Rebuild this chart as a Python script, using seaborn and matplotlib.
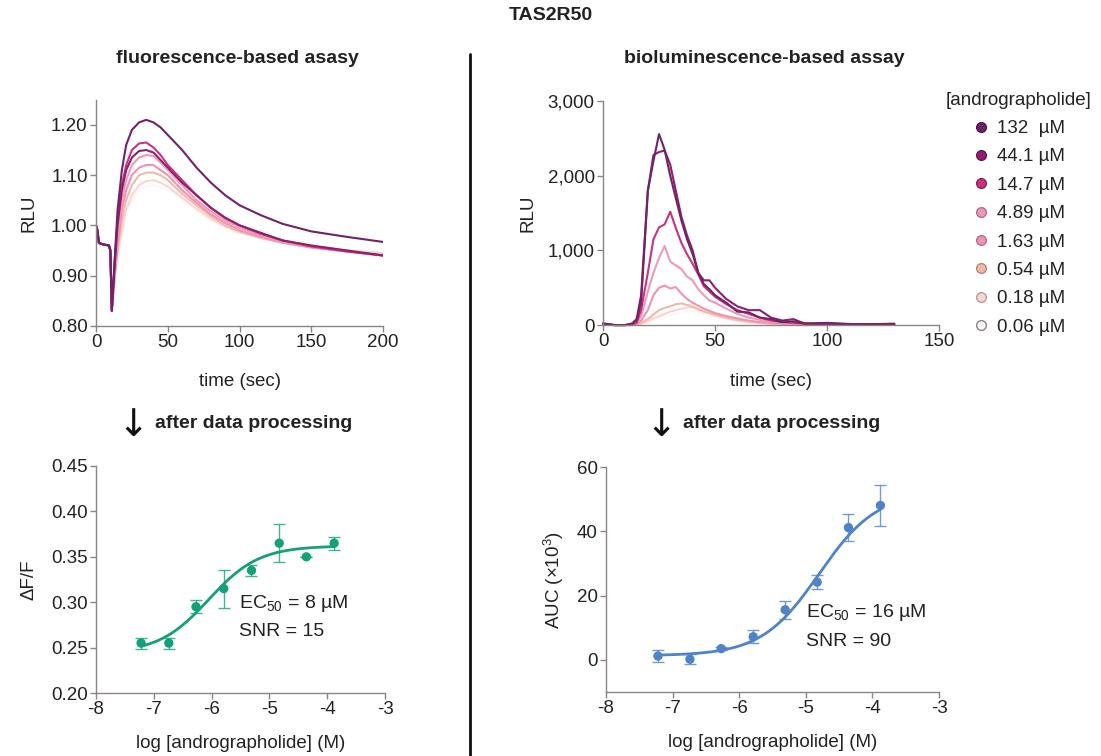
import numpy as np
import pandas as pd
import matplotlib
matplotlib.use('Agg')
import matplotlib.pyplot as plt
from matplotlib.lines import Line2D
import seaborn as sns

# ============================================================
# DATA
# ============================================================
CONC_LABELS = ['132  µM', '44.1 µM', '14.7 µM', '4.89 µM',
               '1.63 µM', '0.54 µM', '0.18 µM', '0.06 µM']
CONC_COLORS = ['#6e2466', '#8f1e6e', '#c8337f', '#ee9ab5',
               '#ee94b0', '#f2b9aa', '#f7d6d4', '#fbf8f6']
CONC_EDGES = ['#4a1844', '#641550', '#8e2058', '#b86d88',
              '#b86d88', '#b8877c', '#b89c9a', '#8a8484']

# fluorescence traces (RLU vs time, sec)
FL_TIME = [0, 1, 2, 5, 9, 10, 11, 13, 15, 18, 21, 25, 30, 35, 40, 45, 50,
           60, 70, 80, 90, 100, 115, 130, 150, 175, 200]
FL_PRE = [1.00, 0.99, 0.965, 0.962, 0.96, 0.95, 0.83]
FL_132 = FL_PRE + [0.93, 1.03, 1.11, 1.16, 1.19, 1.205, 1.21, 1.205, 1.195, 1.18,
                   1.15, 1.115, 1.085, 1.06, 1.04, 1.02, 1.003, 0.988, 0.977, 0.967]
FL_44 = FL_PRE + [0.92, 1.00, 1.07, 1.11, 1.135, 1.148, 1.15, 1.145, 1.13, 1.115,
                  1.085, 1.06, 1.035, 1.015, 1.00, 0.985, 0.97, 0.96, 0.95, 0.94]
FL_14 = FL_PRE + [0.93, 1.01, 1.08, 1.12, 1.15, 1.163, 1.165, 1.155, 1.14, 1.12,
                  1.09, 1.06, 1.035, 1.015, 1.00, 0.983, 0.97, 0.958, 0.948, 0.94]
FL_4 = FL_PRE + [0.91, 0.98, 1.05, 1.09, 1.12, 1.135, 1.14, 1.138, 1.125, 1.11,
                 1.08, 1.05, 1.028, 1.01, 0.995, 0.98, 0.968, 0.957, 0.948, 0.94]
FL_1 = FL_PRE + [0.90, 0.96, 1.03, 1.07, 1.10, 1.115, 1.12, 1.12, 1.11, 1.10,
                 1.07, 1.045, 1.022, 1.005, 0.99, 0.977, 0.966, 0.956, 0.948, 0.94]
FL_05 = FL_PRE + [0.90, 0.95, 1.01, 1.05, 1.08, 1.10, 1.105, 1.105, 1.10, 1.09,
                  1.063, 1.04, 1.018, 1.00, 0.988, 0.975, 0.965, 0.956, 0.948, 0.942]
FL_02 = FL_PRE + [0.89, 0.94, 0.99, 1.03, 1.06, 1.08, 1.088, 1.09, 1.085, 1.077,
                  1.055, 1.033, 1.013, 0.998, 0.986, 0.975, 0.966, 0.958, 0.95, 0.945]
FL_006 = FL_PRE + [0.89, 0.935, 0.98, 1.02, 1.05, 1.07, 1.078, 1.08, 1.076, 1.07,
                   1.05, 1.03, 1.01, 0.996, 0.985, 0.974, 0.965, 0.957, 0.95, 0.946]

# bioluminescence traces (RLU vs time, sec)
BL_TIME = [0, 5, 10, 13, 15, 17, 20, 22.5, 25, 27.5, 30, 32.5, 35, 37.5, 40,
           42.5, 45, 47.5, 50, 55, 60, 65, 70, 75, 80, 85, 90, 100, 110, 120, 130]
BL_132 = [20, 0, 0, 20, 80, 400, 1800, 2200, 2560, 2350, 2000, 1700, 1400, 1150, 950,
          700, 550, 480, 400, 300, 180, 170, 100, 80, 40, 50, 20, 20, 10, 10, 10]
BL_44 = [20, 0, 0, 20, 60, 300, 1800, 2280, 2320, 2340, 2150, 1800, 1450, 1200, 1000,
         700, 600, 600, 500, 350, 250, 200, 200, 100, 60, 80, 20, 30, 15, 10, 20]
BL_14 = [20, 0, 0, 10, 30, 200, 700, 1150, 1310, 1350, 1520, 1300, 1100, 950, 820,
         680, 520, 450, 380, 280, 200, 150, 100, 60, 40, 30, 20, 10, 10, 10, 10]
BL_4 = [20, 0, 0, 5, 20, 120, 450, 700, 900, 1060, 850, 800, 750, 650, 600,
        480, 400, 330, 300, 220, 150, 100, 70, 40, 30, 20, 20, 10, 10, 10, 10]
BL_1 = [20, 0, 0, 5, 10, 60, 200, 400, 500, 530, 490, 510, 420, 350, 300,
        260, 220, 190, 160, 120, 90, 60, 40, 30, 20, 20, 10, 10, 10, 10, 10]
BL_05 = [20, 0, 0, 0, 5, 30, 80, 140, 200, 230, 250, 280, 290, 270, 250,
         210, 180, 160, 140, 100, 70, 50, 30, 20, 20, 10, 10, 10, 10, 10, 10]
BL_02 = [20, 0, 0, 0, 5, 20, 50, 90, 120, 150, 180, 200, 220, 235, 240,
         220, 190, 160, 130, 90, 60, 40, 30, 20, 15, 10, 10, 10, 10, 10, 10]
BL_006 = [20, 0, 0, 0, 0, 10, 30, 60, 90, 110, 130, 150, 170, 180, 185,
          170, 150, 125, 100, 70, 50, 35, 25, 15, 10, 10, 10, 10, 10, 10, 10]

# dose-response
LOG_CONC = [-7.22, -6.74, -6.27, -5.79, -5.31, -4.83, -4.36, -3.88]
DF_MEAN = [0.255, 0.255, 0.295, 0.315, 0.335, 0.365, 0.350, 0.365]
DF_ERR = [0.006, 0.006, 0.007, 0.021, 0.006, 0.021, 0.0, 0.007]
AUC_MEAN = [1.2, 0.2, 3.5, 7.2, 15.6, 24.2, 41.2, 48.1]
AUC_ERR = [1.8, 1.5, 0.5, 2.0, 2.8, 2.2, 4.2, 6.3]
# four-parameter logistic fits: bottom, top, logEC50, hill
DF_FIT = [0.244, 0.362, -6.05, 1.0]
AUC_FIT = [1.3, 52.3, -4.8, 1.0]

GREEN = '#14a078'
BLUE = '#4f82c6'
SPINE = '#8c8480'
TEXT = '#222222'
FS = 13.5


def long_frame(times, series):
    rows = []
    for label, vals in zip(CONC_LABELS, series):
        for t, v in zip(times, vals):
            rows.append({'time': t, 'value': v, 'conc': label})
    return pd.DataFrame(rows)


def fit_curve(params, lo, hi):
    bottom, top, logec, hill = params
    x = np.linspace(lo, hi, 200)
    y = bottom + (top - bottom) / (1 + 10 ** ((logec - x) * hill))
    return pd.DataFrame({'x': x, 'y': y})


def style_axis(ax):
    sns.despine(ax=ax)
    for s in ['left', 'bottom']:
        ax.spines[s].set_color(SPINE)
        ax.spines[s].set_linewidth(1.0)
    ax.tick_params(colors=SPINE, labelcolor=TEXT, labelsize=FS,
                   length=4, width=1.0, pad=2)


sns.set_theme(style='ticks')
plt.rcParams['font.family'] = ['Liberation Sans', 'DejaVu Sans']
plt.rcParams['mathtext.fontset'] = 'custom'
plt.rcParams['mathtext.rm'] = 'Liberation Sans'
plt.rcParams['axes.unicode_minus'] = False

fig = plt.figure(figsize=(11.01, 7.56), dpi=100)
palette = dict(zip(CONC_LABELS, CONC_COLORS))

# ---------------- top left: fluorescence traces ----------------
ax1 = fig.add_axes([0.0872, 0.569, 0.2608, 0.299])
fl_df = long_frame(FL_TIME, [FL_132, FL_44, FL_14, FL_4, FL_1, FL_05, FL_02, FL_006])
sns.lineplot(data=fl_df, x='time', y='value', hue='conc', palette=palette,
             hue_order=CONC_LABELS[::-1], linewidth=1.5, legend=False, ax=ax1)
ax1.set_xlim(0, 200)
ax1.set_ylim(0.8, 1.25)
ax1.set_xticks([0, 50, 100, 150, 200])
ax1.set_yticks([0.8, 0.9, 1.0, 1.1, 1.2])
ax1.set_yticklabels(['0.80', '0.90', '1.00', '1.10', '1.20'])
ax1.set_xlabel('time (sec)', fontsize=FS, color=TEXT, labelpad=16)
ax1.set_ylabel('RLU', fontsize=FS, color=TEXT, labelpad=10)
style_axis(ax1)

# ---------------- top right: bioluminescence traces ----------------
ax2 = fig.add_axes([0.5477, 0.570, 0.3053, 0.296])
bl_df = long_frame(BL_TIME, [BL_132, BL_44, BL_14, BL_4, BL_1, BL_05, BL_02, BL_006])
sns.lineplot(data=bl_df, x='time', y='value', hue='conc', palette=palette,
             hue_order=CONC_LABELS[::-1], linewidth=1.5, legend=False, ax=ax2)
ax2.set_xlim(0, 150)
ax2.set_ylim(0, 3000)
ax2.set_xticks([0, 50, 100, 150])
ax2.set_yticks([0, 1000, 2000, 3000])
ax2.set_yticklabels(['0', '1,000', '2,000', '3,000'])
ax2.set_xlabel('time (sec)', fontsize=FS, color=TEXT, labelpad=16)
ax2.set_ylabel('RLU', fontsize=FS, color=TEXT, labelpad=8)
style_axis(ax2)
for line in ax2.lines:
    line.set_clip_on(False)

# ---------------- bottom left: ΔF/F dose response ----------------
ax3 = fig.add_axes([0.0872, 0.0833, 0.2625, 0.3003])
sns.lineplot(data=fit_curve(DF_FIT, -7.22, -3.88), x='x', y='y', color=GREEN,
             linewidth=2.0, ax=ax3)
ax3.errorbar(LOG_CONC, DF_MEAN, yerr=DF_ERR, fmt='none', ecolor=GREEN,
             elinewidth=1.0, capsize=4, capthick=1.0, alpha=0.8)
sns.scatterplot(x=LOG_CONC, y=DF_MEAN, color=GREEN, s=45, edgecolor='none',
                ax=ax3, zorder=3)
ax3.set_xlim(-8, -3)
ax3.set_ylim(0.2, 0.45)
ax3.set_xticks([-8, -7, -6, -5, -4, -3])
ax3.set_yticks([0.2, 0.25, 0.3, 0.35, 0.4, 0.45])
ax3.set_yticklabels(['0.20', '0.25', '0.30', '0.35', '0.40', '0.45'])
ax3.set_xlabel('log [andrographolide] (M)', fontsize=FS, color=TEXT, labelpad=12)
ax3.set_ylabel('ΔF/F', fontsize=FS, color=TEXT, labelpad=10)
style_axis(ax3)
ax3.text(-5.52, 0.299, r'EC$_{50}$ = 8 µM', fontsize=14, color=TEXT, va='center')
ax3.text(-5.52, 0.268, 'SNR = 15', fontsize=14, color=TEXT, va='center')

# ---------------- bottom right: AUC dose response ----------------
ax4 = fig.add_axes([0.5504, 0.0847, 0.3025, 0.2973])
sns.lineplot(data=fit_curve(AUC_FIT, -7.22, -3.88), x='x', y='y', color=BLUE,
             linewidth=2.0, ax=ax4)
ax4.errorbar(LOG_CONC, AUC_MEAN, yerr=AUC_ERR, fmt='none', ecolor=BLUE,
             elinewidth=1.0, capsize=4, capthick=1.0, alpha=0.8)
sns.scatterplot(x=LOG_CONC, y=AUC_MEAN, color=BLUE, s=45, edgecolor='none',
                ax=ax4, zorder=3)
ax4.set_xlim(-8, -3)
ax4.set_ylim(-10, 60)
ax4.set_xticks([-8, -7, -6, -5, -4, -3])
ax4.set_yticks([0, 20, 40, 60])
ax4.set_xlabel('log [andrographolide] (M)', fontsize=FS, color=TEXT, labelpad=12)
ax4.set_ylabel('AUC (×10$^3$)', fontsize=FS, color=TEXT, labelpad=8)
style_axis(ax4)
ax4.text(-5.0, 14.8, r'EC$_{50}$ = 16 µM', fontsize=14, color=TEXT, va='center')
ax4.text(-5.0, 5.8, 'SNR = 90', fontsize=14, color=TEXT, va='center')

# ---------------- legend ----------------
handles = [Line2D([], [], marker='o', linestyle='none', markersize=7,
                  markerfacecolor=c, markeredgecolor=e, markeredgewidth=1.0)
           for c, e in zip(CONC_COLORS, CONC_EDGES)]
leg = fig.legend(handles, CONC_LABELS, title='[andrographolide]',
                 loc='upper right', bbox_to_anchor=(1.003, 0.896), frameon=False,
                 fontsize=FS, title_fontsize=FS, handletextpad=0.35,
                 labelspacing=0.6, handlelength=1.0, borderpad=0.2)
for t in leg.get_texts():
    t.set_color(TEXT)
leg.get_title().set_color(TEXT)

# ---------------- titles, arrows, separator ----------------
fig.text(0.5005, 0.979, 'TAS2R50', ha='center', va='center', fontsize=14,
         fontweight='bold', color=TEXT)
fig.text(0.216, 0.923, 'fluorescence-based asasy', ha='center', va='center',
         fontsize=14, fontweight='bold', color=TEXT)
fig.text(0.694, 0.923, 'bioluminescence-based assay', ha='center', va='center',
         fontsize=14, fontweight='bold', color=TEXT)
for xa, xt in [(0.121, 0.141), (0.600, 0.620)]:
    fig.text(xa, 0.436, '↓', ha='center', va='center', fontsize=27,
             family=['DejaVu Sans'], color='#111111')
    fig.text(xt, 0.440, 'after data processing', ha='left', va='center',
             fontsize=14, fontweight='bold', color=TEXT)
fig.add_artist(Line2D([0.4269, 0.4269], [0.0, 0.928], transform=fig.transFigure,
                      color='#111111', linewidth=2.0))

fig.savefig('out.png', dpi=100)
